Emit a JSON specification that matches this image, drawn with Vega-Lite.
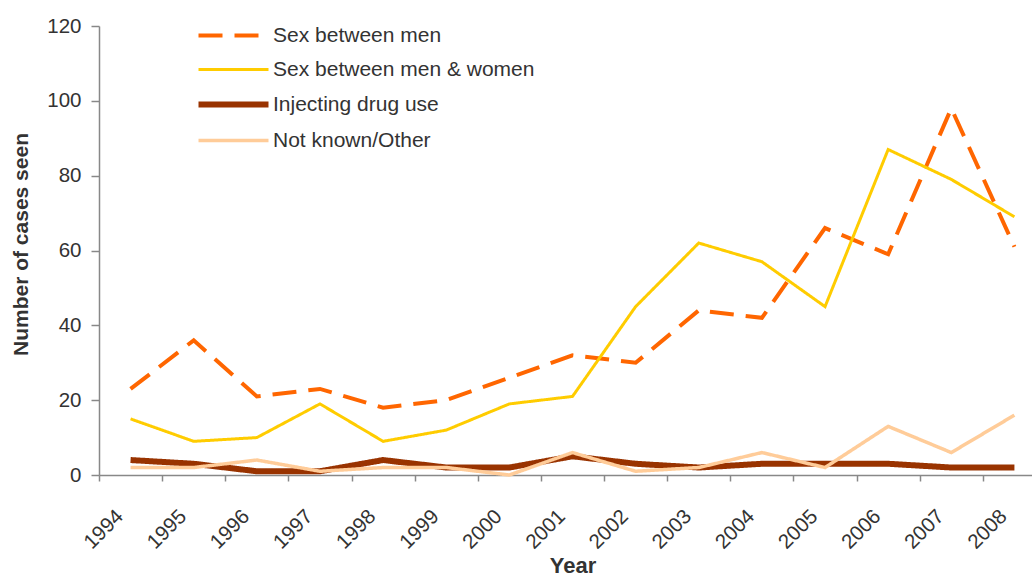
{
  "$schema": "https://vega.github.io/schema/vega-lite/v6.json",
  "width": 933,
  "height": 449,
  "autosize": "none",
  "padding": {"left": 99, "top": 26, "right": 0, "bottom": 105},
  "config": {"view": {"stroke": null}, "font": "Liberation Sans"},
  "data": {"values": [
    {"year": "1994", "series": "Sex between men", "cases": 23},
    {"year": "1995", "series": "Sex between men", "cases": 36},
    {"year": "1996", "series": "Sex between men", "cases": 21},
    {"year": "1997", "series": "Sex between men", "cases": 23},
    {"year": "1998", "series": "Sex between men", "cases": 18},
    {"year": "1999", "series": "Sex between men", "cases": 20},
    {"year": "2000", "series": "Sex between men", "cases": 26},
    {"year": "2001", "series": "Sex between men", "cases": 32},
    {"year": "2002", "series": "Sex between men", "cases": 30},
    {"year": "2003", "series": "Sex between men", "cases": 44},
    {"year": "2004", "series": "Sex between men", "cases": 42},
    {"year": "2005", "series": "Sex between men", "cases": 66},
    {"year": "2006", "series": "Sex between men", "cases": 59},
    {"year": "2007", "series": "Sex between men", "cases": 98},
    {"year": "2008", "series": "Sex between men", "cases": 61},
    {"year": "1994", "series": "Sex between men & women", "cases": 15},
    {"year": "1995", "series": "Sex between men & women", "cases": 9},
    {"year": "1996", "series": "Sex between men & women", "cases": 10},
    {"year": "1997", "series": "Sex between men & women", "cases": 19},
    {"year": "1998", "series": "Sex between men & women", "cases": 9},
    {"year": "1999", "series": "Sex between men & women", "cases": 12},
    {"year": "2000", "series": "Sex between men & women", "cases": 19},
    {"year": "2001", "series": "Sex between men & women", "cases": 21},
    {"year": "2002", "series": "Sex between men & women", "cases": 45},
    {"year": "2003", "series": "Sex between men & women", "cases": 62},
    {"year": "2004", "series": "Sex between men & women", "cases": 57},
    {"year": "2005", "series": "Sex between men & women", "cases": 45},
    {"year": "2006", "series": "Sex between men & women", "cases": 87},
    {"year": "2007", "series": "Sex between men & women", "cases": 79},
    {"year": "2008", "series": "Sex between men & women", "cases": 69},
    {"year": "1994", "series": "Injecting drug use", "cases": 4},
    {"year": "1995", "series": "Injecting drug use", "cases": 3},
    {"year": "1996", "series": "Injecting drug use", "cases": 1},
    {"year": "1997", "series": "Injecting drug use", "cases": 1},
    {"year": "1998", "series": "Injecting drug use", "cases": 4},
    {"year": "1999", "series": "Injecting drug use", "cases": 2},
    {"year": "2000", "series": "Injecting drug use", "cases": 2},
    {"year": "2001", "series": "Injecting drug use", "cases": 5},
    {"year": "2002", "series": "Injecting drug use", "cases": 3},
    {"year": "2003", "series": "Injecting drug use", "cases": 2},
    {"year": "2004", "series": "Injecting drug use", "cases": 3},
    {"year": "2005", "series": "Injecting drug use", "cases": 3},
    {"year": "2006", "series": "Injecting drug use", "cases": 3},
    {"year": "2007", "series": "Injecting drug use", "cases": 2},
    {"year": "2008", "series": "Injecting drug use", "cases": 2},
    {"year": "1994", "series": "Not known/Other", "cases": 2},
    {"year": "1995", "series": "Not known/Other", "cases": 2},
    {"year": "1996", "series": "Not known/Other", "cases": 4},
    {"year": "1997", "series": "Not known/Other", "cases": 1},
    {"year": "1998", "series": "Not known/Other", "cases": 2},
    {"year": "1999", "series": "Not known/Other", "cases": 2},
    {"year": "2000", "series": "Not known/Other", "cases": 0},
    {"year": "2001", "series": "Not known/Other", "cases": 6},
    {"year": "2002", "series": "Not known/Other", "cases": 1},
    {"year": "2003", "series": "Not known/Other", "cases": 2},
    {"year": "2004", "series": "Not known/Other", "cases": 6},
    {"year": "2005", "series": "Not known/Other", "cases": 2},
    {"year": "2006", "series": "Not known/Other", "cases": 13},
    {"year": "2007", "series": "Not known/Other", "cases": 6},
    {"year": "2008", "series": "Not known/Other", "cases": 16}
  ]},
  "mark": {"type": "line"},
  "encoding": {
    "x": {
      "field": "year", "type": "ordinal",
      "scale": {"type": "band", "range": [0, 947], "paddingInner": 0, "paddingOuter": 0},
      "axis": {
        "title": "Year", "titleFontSize": 22, "titleFontWeight": "bold", "titleColor": "#333333", "titlePadding": 3,
        "labelAngle": -45, "labelAlign": "right", "labelBaseline": "middle", "labelFontSize": 20.5, "labelColor": "#333333", "labelPadding": 32, "labelOffset": -11,
        "tickBand": "extent", "tickSize": 6, "tickColor": "#888888", "domainColor": "#888888", "domainWidth": 1.5, "tickWidth": 1.5, "grid": false
      }
    },
    "y": {
      "field": "cases", "type": "quantitative",
      "scale": {"domain": [0, 120]},
      "axis": {
        "title": "Number of cases seen", "titleFontSize": 21, "titleFontWeight": "bold", "titleColor": "#333333", "titlePadding": 15, "titleY": 218,
        "values": [0, 20, 40, 60, 80, 100, 120], "labelFontSize": 20.5, "labelColor": "#333333", "labelPadding": 10,
        "tickSize": 8, "tickColor": "#888888", "domainColor": "#888888", "domainWidth": 1.5, "tickWidth": 1.5, "grid": false
      }
    },
    "color": {
      "field": "series", "type": "nominal",
      "scale": {"domain": ["Sex between men", "Sex between men & women", "Injecting drug use", "Not known/Other"], "range": ["#FF6600", "#FFCC00", "#993300", "#FFCC99"]},
      "legend": {
        "orient": "none", "legendX": 124, "legendY": -1, "title": null, "padding": 0,
        "symbolType": "M-10,0H10", "symbolSize": 49, "labelFontSize": 21, "labelColor": "#333333", "labelOffset": 29, "labelLimit": 500, "rowPadding": 12
      }
    },
    "strokeDash": {
      "field": "series", "type": "nominal",
      "scale": {"domain": ["Sex between men", "Sex between men & women", "Injecting drug use", "Not known/Other"], "range": [[24, 12], [1, 0], [1, 0], [1, 0]]}
    },
    "strokeWidth": {
      "field": "series", "type": "nominal",
      "scale": {"type": "ordinal", "domain": ["Sex between men", "Sex between men & women", "Injecting drug use", "Not known/Other"], "range": [4, 3, 6, 3.5]}
    }
  }
}
